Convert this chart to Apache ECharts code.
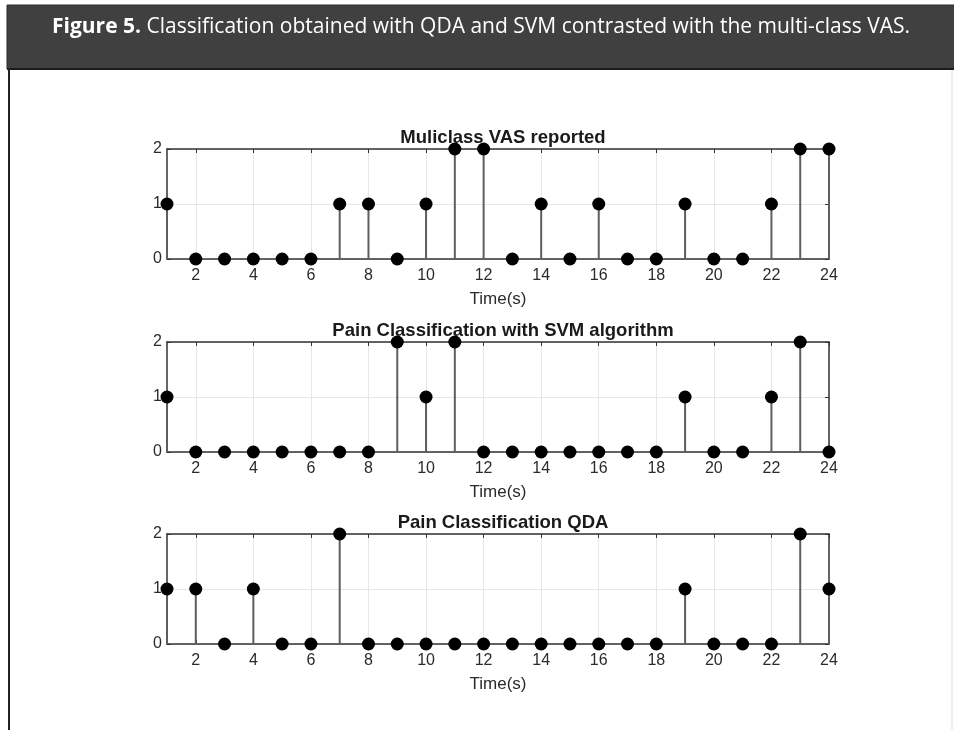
<!DOCTYPE html>
<html><head><meta charset="utf-8">
<script src="https://cdn.jsdelivr.net/npm/echarts@6/dist/echarts.min.js"></script>
<style>html,body{margin:0;padding:0;background:#fff}#c{width:954px;height:730px}</style>
</head><body><div id="c"></div>
<script>
const times = ['1','2','3','4','5','6','7','8','9','10','11','12','13','14','15','16','17','18','19','20','21','22','23','24'];
const vasReported = [1,0,0,0,0,0,1,1,0,1,2,2,0,1,0,1,0,0,1,0,0,1,2,2];
const svmClass    = [1,0,0,0,0,0,0,0,2,1,2,0,0,0,0,0,0,0,1,0,0,1,2,0];
const qdaClass    = [1,1,0,1,0,0,2,0,0,0,0,0,0,0,0,0,0,0,1,0,0,0,2,1];
const panelTitles = ['Muliclass VAS reported', 'Pain Classification with SVM algorithm', 'Pain Classification QDA'];
const xAxisName = 'Time(s)';
const figureLabel = 'Figure 5.';
const figureCaption = ' Classification obtained with QDA and SVM contrasted with the multi-class VAS.';

const panels = [vasReported, svmClass, qdaClass];
const gridTops = [149, 342, 534];
const gridH = 110;
const plotLeft = 167, plotRight = 829;
const axisColor = '#333';
const textColor = '#2b2b2b';
const evenIdx = (i) => i % 2 === 1;

const chart = echarts.init(document.getElementById('c'), null, {renderer: 'canvas'});

const grid = [], xAxis = [], yAxis = [], series = [], title = [];
panels.forEach((vals, k) => {
  grid.push({left: plotLeft, width: plotRight - plotLeft, top: gridTops[k], height: gridH, containLabel: false});
  xAxis.push({
    type: 'category', gridIndex: k, data: times, boundaryGap: false, position: 'bottom',
    axisLine: {show: true, onZero: false, lineStyle: {color: axisColor, width: 1.5}},
    axisTick: {show: true, inside: true, length: 4, interval: evenIdx, lineStyle: {color: axisColor}},
    axisLabel: {show: true, interval: evenIdx, margin: 9, color: textColor, fontSize: 16, fontFamily: 'Liberation Sans'},
    splitLine: {show: true, interval: evenIdx, lineStyle: {color: '#e6e6e6', width: 1}},
    name: xAxisName, nameLocation: 'middle', nameGap: 32,
    nameTextStyle: {color: textColor, fontSize: 17, fontFamily: 'Liberation Sans'}
  });
  xAxis.push({
    type: 'category', gridIndex: k, data: times, boundaryGap: false, position: 'top',
    axisLine: {show: true, onZero: false, lineStyle: {color: axisColor, width: 1.5}},
    axisTick: {show: true, inside: true, length: 4, interval: evenIdx, lineStyle: {color: axisColor}},
    axisLabel: {show: false}, splitLine: {show: false}
  });
  yAxis.push({
    type: 'value', gridIndex: k, min: 0, max: 2, interval: 1, position: 'left',
    axisLine: {show: true, onZero: false, lineStyle: {color: axisColor, width: 1.5}},
    axisTick: {show: true, inside: true, length: 4, lineStyle: {color: axisColor}},
    axisLabel: {show: true, margin: 5, color: textColor, fontSize: 16, fontFamily: 'Liberation Sans'},
    splitLine: {show: true, lineStyle: {color: '#e6e6e6', width: 1}}
  });
  yAxis.push({
    type: 'value', gridIndex: k, min: 0, max: 2, interval: 1, position: 'right',
    axisLine: {show: true, onZero: false, lineStyle: {color: axisColor, width: 1.5}},
    axisTick: {show: true, inside: true, length: 4, lineStyle: {color: axisColor}},
    axisLabel: {show: false}, splitLine: {show: false}
  });
  series.push({
    type: 'bar', xAxisIndex: 2 * k, yAxisIndex: 2 * k, data: vals, barWidth: 2,
    itemStyle: {color: '#5e5e5e'}, silent: true, z: 3
  });
  series.push({
    type: 'scatter', xAxisIndex: 2 * k, yAxisIndex: 2 * k, data: vals, symbol: 'circle', symbolSize: 13,
    itemStyle: {color: '#000', opacity: 1}, clip: false, silent: true, z: 5
  });
  title.push({
    text: panelTitles[k], left: (plotLeft + plotRight) / 2, textAlign: 'center', top: gridTops[k] - 26,
    textStyle: {color: '#1a1a1a', fontSize: 18.5, fontWeight: 'bold', fontFamily: 'Liberation Sans'}
  });
});

const option = {
  animation: false,
  backgroundColor: '#fff',
  title, grid, xAxis, yAxis, series,
  graphic: [
    {type: 'rect', shape: {x: 7, y: 5, width: 948, height: 64}, style: {fill: '#404040', stroke: '#2a2a2a', lineWidth: 1}, z: 1},
    {type: 'line', shape: {x1: 7, y1: 69, x2: 954, y2: 69}, style: {stroke: '#1c1c1c', lineWidth: 2}, z: 2},
    {type: 'line', shape: {x1: 9, y1: 69, x2: 9, y2: 730}, style: {stroke: '#222', lineWidth: 2}, z: 2},
    {type: 'line', shape: {x1: 952, y1: 70, x2: 952, y2: 730}, style: {stroke: '#dcdcdc', lineWidth: 1}, z: 2},
    {type: 'text', left: 52, top: 17, z: 3,
      style: {
        text: '{b|' + figureLabel + '}{r|' + figureCaption + '}',
        rich: {
          b: {fill: '#fff', fontWeight: 'bold', fontSize: 21, fontFamily: 'Open Sans'},
          r: {fill: '#fff', fontSize: 21, fontFamily: 'Open Sans'}
        }
      }
    }
  ]
};
chart.setOption(option);
</script></body></html>
